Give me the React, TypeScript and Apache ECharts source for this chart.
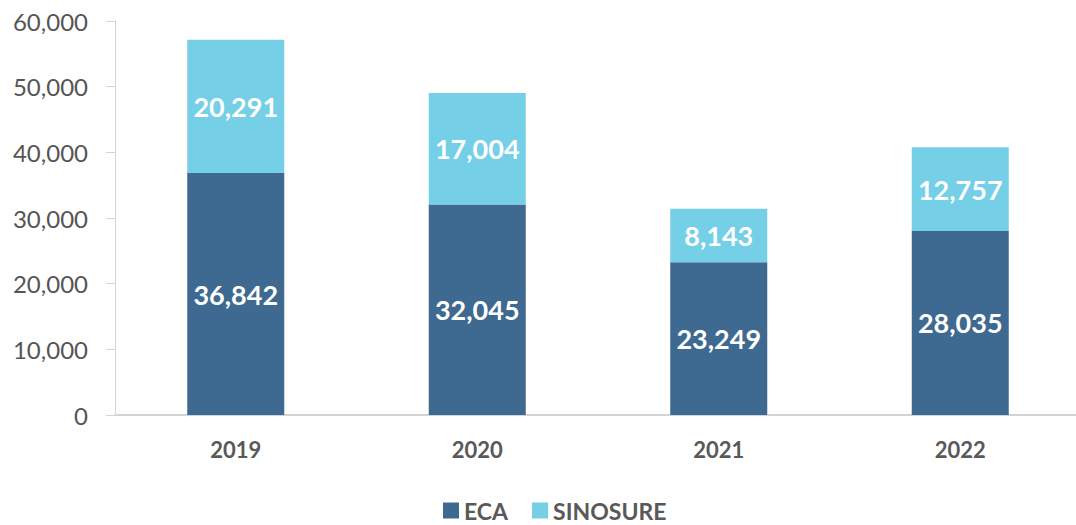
import React, { useEffect, useRef } from "react";
import * as echarts from "echarts";

const categories = ["2019", "2020", "2021", "2022"];
const ecaValues = [36842, 32045, 23249, 28035];
const sinosureValues = [20291, 17004, 8143, 12757];

const FONT = "Lato, 'Open Sans', sans-serif";

export default function App() {
  const ref = useRef<HTMLDivElement>(null);
  useEffect(() => {
    if (!ref.current) return;
    const chart = echarts.init(ref.current, null, { renderer: "svg" });
    const label = {
      show: true,
      position: "inside",
      color: "#ffffff",
      fontFamily: FONT,
      fontWeight: "bold",
      fontSize: 27,
      formatter: (p: any) => p.value.toLocaleString("en-US"),
    };
    chart.setOption({
      animation: false,
      grid: { left: 115, top: 21, width: 966, height: 394, containLabel: false },
      legend: {
        data: ["ECA", "SINOSURE"],
        left: 443,
        top: 499,
        padding: 0,
        icon: "rect",
        itemWidth: 16,
        itemHeight: 16,
        itemGap: 24,
        textStyle: { color: "#595959", fontFamily: FONT, fontWeight: "bold", fontSize: 23 },
      },
      xAxis: {
        type: "category",
        data: categories,
        axisLine: { show: true, lineStyle: { color: "#d4d4d4", width: 2 } },
        axisTick: { show: false },
        axisLabel: { color: "#595959", fontFamily: FONT, fontWeight: "bold", fontSize: 22, margin: 23 },
      },
      yAxis: {
        type: "value",
        min: 0,
        max: 60000,
        interval: 10000,
        splitLine: { show: false },
        axisLine: { show: true, lineStyle: { color: "#d4d4d4", width: 1 } },
        axisTick: { show: true, length: 9, lineStyle: { color: "#d4d4d4" } },
        axisLabel: {
          color: "#555555",
          fontFamily: FONT,
          fontSize: 24,
          margin: 27,
          formatter: (v: number) => v.toLocaleString("en-US"),
        },
      },
      series: [
        {
          name: "ECA",
          type: "bar",
          stack: "total",
          data: ecaValues,
          barWidth: 97,
          itemStyle: { color: "#3e6990" },
          label,
        },
        {
          name: "SINOSURE",
          type: "bar",
          stack: "total",
          data: sinosureValues,
          barWidth: 97,
          itemStyle: { color: "#75cfe7" },
          label,
        },
      ],
    });
    return () => chart.dispose();
  }, []);
  return (
    <div style={{ width: 1076, height: 525, position: "absolute", left: 0, top: 0, overflow: "hidden" }}>
      <div ref={ref} style={{ width: 1090, height: 525 }} />
    </div>
  );
}
